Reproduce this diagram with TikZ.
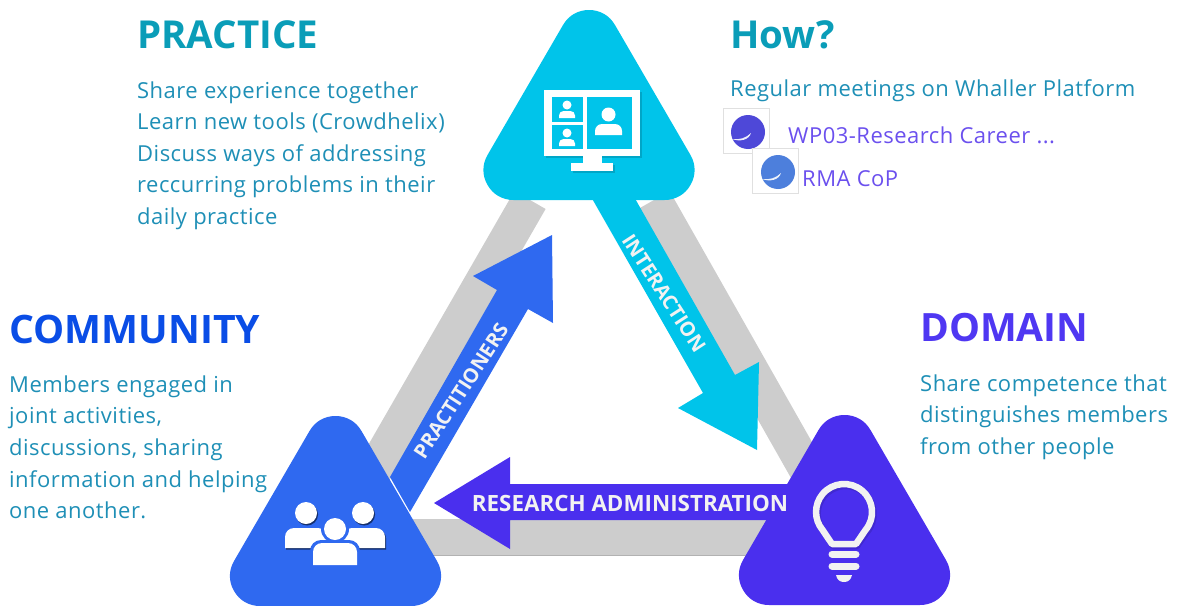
\documentclass[tikz,border=0pt]{standalone}
\usepackage{fontspec}
\setmainfont{Open Sans}
\newfontfamily\bodyfont[LetterSpace=2.2]{Open Sans}
\definecolor{cyanT}{HTML}{00C4EA}
\definecolor{blueT}{HTML}{2F69F0}
\definecolor{violetT}{HTML}{4A2FEE}
\definecolor{barG}{HTML}{CDCDCD}
\definecolor{bodyC}{HTML}{1E8FB6}
\definecolor{pracC}{HTML}{0A9DB8}
\definecolor{commC}{HTML}{0A4DE6}
\definecolor{domC}{HTML}{4F37F2}
\definecolor{linkC}{HTML}{6B50EE}
\definecolor{logoA}{HTML}{4E48D8}
\definecolor{logoB}{HTML}{4D7FDC}
\newcommand{\rtri}[3]{% apex x, top y, colour
  \draw[#3,fill=#3,line width=60pt,line join=round]
    (#1,#2+30) -- (#1+75.5,#2+160) -- (#1-75.5,#2+160) -- cycle;}
\newcommand{\vperson}[6]{% cx, headY, headR, bodyHalf, bodyTop, bodyBottom
  \fill[white] (#1,#2) circle[radius=#3];
  \fill[white] (#1-#4,#6) [rounded corners=#3*1pt] -- (#1-#4,#5) -- (#1+#4,#5) [sharp corners] -- (#1+#4,#6) -- cycle;}
\newcommand{\logo}[5]{% x0,y0,cx,cy,colour
  \draw[logobox] (#1,#2) rectangle ++(46,45);
  \fill[#5] (#3,#4) circle[radius=17];
  \fill[white!90!#5] (#3-16,#4+7) .. controls (#3-8,#4+8) and (#3-2,#4+6) .. (#3+3,#4+1) .. controls (#3+1,#4+8) and (#3-8,#4+10) .. (#3-16,#4+7) -- cycle;}
\tikzset{
  x=1pt,y=-1pt,
  bar/.style={barG,line width=36pt},
  head/.style={anchor=base west,inner sep=0pt,font=\fontsize{38.5}{38.5}\selectfont\bfseries},
  body/.style={anchor=base west,inner sep=0pt,text=bodyC,font=\bodyfont\fontsize{22}{22}\selectfont},
  link/.style={anchor=base west,inner sep=0pt,text=linkC,font=\bodyfont\fontsize{22}{22}\selectfont},
  arrowtext/.style={inner sep=0pt,text=white!95!black,font=\fontsize{20}{20}\selectfont\bfseries},
  logobox/.style={draw=black!12,fill=white,line width=.7pt},
}
\begin{document}
\begin{tikzpicture}
\useasboundingbox (0,0) rectangle (1177,605);
\clip (0,0) rectangle (1177,605);
% grey bars
\coordinate (pl) at (530,200); \coordinate (cu) at (370,478);
\coordinate (pr) at (654,200); \coordinate (du) at (810,475);
\coordinate (cr) at (400,537); \coordinate (dl) at (790,537);
\draw[bar] (pl) -- (cu);
\draw[bar] (pr) -- (du);
\draw[bar] (cr) -- (dl);
\draw[black!30,line width=1pt] (410,555) -- (770,555);
% arrows
\fill[blueT] (390,477) -- (497,290) -- (473,276) -- (552,235) -- (553,323) -- (528,309) -- (410,512) -- cycle;
\fill[cyanT] (590,195) -- (703,393) -- (678,408) -- (757,450) -- (759,362) -- (735,375) -- (633,195) -- cycle;
\fill[violetT] (434,503) -- (510,457) -- (510,484) -- (800,484) -- (800,520) -- (510,520) -- (510,549) -- cycle;
% triangles
\rtri{589}{10}{cyanT}
\rtri{335.5}{416}{blueT}
\rtri{844.5}{415}{violetT}
% monitor icon
\fill[black,opacity=.15] (546,92) rectangle (642,158);
\fill[black,opacity=.15] (573,165) rectangle (615,173);
\fill[white] (544,90) rectangle (640,156);
\fill[white] (583,156) rectangle (602,164);
\fill[white] (571,163) rectangle (613,171);
\fill[cyanT] (552,97) rectangle (583,122);
\fill[cyanT] (552,125) rectangle (583,149);
\fill[cyanT] (587,97) rectangle (632,149);
\vperson{567}{105}{4.5}{8}{111}{118}
\vperson{567}{133}{4.5}{8}{139}{146}
\vperson{608.5}{114.5}{7}{13.5}{124}{135}
% people icon
\foreach \c/\o in {black!55!blueT/1.5,white/0}{
\begin{scope}[shift={(\o*.7,\o)}]
\fill[\c] (306,513) circle[radius=11];
\fill[\c] (363,513) circle[radius=11];
\fill[\c] (285,548) [rounded corners=9pt] -- (285,528) -- (327,528) [sharp corners] -- (327,548) -- cycle;
\fill[\c] (343,548) [rounded corners=9pt] -- (343,528) -- (385,528) [sharp corners] -- (385,548) -- cycle;
\end{scope}}
\fill[blueT] (335,529) circle[radius=14];
\fill[blueT] (310,568) [rounded corners=11pt] -- (310,540) -- (360,540) [sharp corners] -- (360,568) -- cycle;
\fill[white] (335,529) circle[radius=11];
\fill[white] (313,565) [rounded corners=9pt] -- (313,543) -- (357,543) [sharp corners] -- (357,565) -- cycle;
% bulb icon
\draw[black,opacity=.12,line width=6.5pt,line join=round] (833,546) -- (857,546) -- (867,532)
  arc[start angle=40,end angle=-220,radius=28] -- cycle;
\draw[white!95!black,line width=6.5pt,line join=round] (832,544) -- (856,544) -- (865.5,530)
  arc[start angle=40,end angle=-220,radius=28] -- cycle;
\draw[white!95!black,line width=7pt,line cap=round] (832,554) -- (856,554);
\draw[white!95!black,line width=7pt,line cap=round] (832,566) -- (856,566);
\fill[white!95!black] (836,575) -- (852,575) .. controls (851,580) and (848,582) .. (844,582) .. controls (840,582) and (837,580) .. (836,575) -- cycle;
% arrow labels
\node[arrowtext,font=\fontsize{22.4}{22.4}\selectfont\bfseries,anchor=base] (ra) at (630,511) {RESEARCH ADMINISTRATION};
\node[arrowtext,rotate=57] (pt) at (461,391) {PRACTITIONERS};
\node[arrowtext,rotate=-57] (it) at (664,293) {INTERACTION};
% logos
\logo{723}{108}{748}{132}{logoA}
\logo{752}{148}{778}{172}{logoB}
% texts
\node[head,text=pracC] (practice) at (137,48) {PRACTICE};
\node[body] (p1) at (137,98) {Share experience together};
\node[body] (p2) at (137,129) {Learn new tools (Crowdhelix)};
\node[body] (p3) at (137,161) {Discuss ways of addressing};
\node[body] (p4) at (137,192) {reccurring problems in their};
\node[body] (p5) at (137,224) {daily practice};
\node[head,text=pracC] (how) at (730,48) {How?};
\node[body] (h1) at (730,96) {Regular meetings on Whaller Platform};
\node[link] (l1) at (788,143) {WP03-Research Career ...};
\node[link] (l2) at (802,186) {RMA CoP};
\node[head,text=commC,font=\fontsize{39.2}{39.2}\selectfont\bfseries] (community) at (9,343) {COMMUNITY};
\node[body] (c1) at (9,392) {Members engaged in};
\node[body] (c2) at (9,423) {joint activities,};
\node[body] (c3) at (9,455) {discussions, sharing};
\node[body] (c4) at (9,487) {information and helping};
\node[body] (c5) at (9,518) {one another.};
\node[head,text=domC,font=\fontsize{39}{39}\selectfont\bfseries] (domain) at (920,341) {DOMAIN};
\node[body] (d1) at (920,391) {Share competence that};
\node[body] (d2) at (920,422) {distinguishes members};
\node[body] (d3) at (920,454) {from other people};
\end{tikzpicture}
\end{document}
